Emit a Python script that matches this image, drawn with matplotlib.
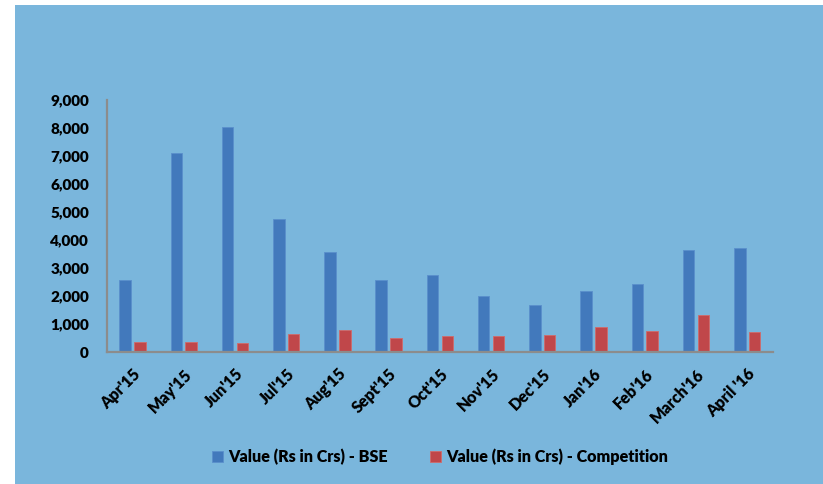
import matplotlib
matplotlib.use("Agg")
from matplotlib import pyplot as plt
from matplotlib.patches import Rectangle
from matplotlib.ticker import FuncFormatter
import numpy as np

months = ["Apr'15", "May'15", "Jun'15", "Jul'15", "Aug'15", "Sept'15", "Oct'15",
          "Nov'15", "Dec'15", "Jan'16", "Feb'16", "March'16", "April '16"]
bse = [2570, 7100, 8050, 4740, 3560, 2570, 2750, 1990, 1680, 2170, 2440, 3640, 3710]
competition = [370, 370, 335, 630, 785, 510, 570, 570, 605, 890, 760, 1310, 705]

bgColor = "#7AB6DC"
blueColor = "#4279BC"
redColor = "#C0474A"

plt.rcParams["font.family"] = ["Lato", "DejaVu Sans"]
plt.rcParams["font.weight"] = "heavy"

fig = plt.figure(figsize=(8.23, 4.84), dpi=100)
fig.patch.set_facecolor("white")
fig.patches.append(Rectangle((15 / 823, 0), 1, 1 - 5 / 484, transform=fig.transFigure,
                             facecolor=bgColor, edgecolor="none", zorder=-10))

ax = fig.add_axes([107 / 823, 1 - 352 / 484, 666 / 823, 252 / 484])
ax.set_facecolor("none")

x = np.arange(len(months))
w = 0.225
ax.bar(x - 0.147, bse, w, color=blueColor, edgecolor="#5A8FCC", linewidth=0.6,
       label="Value (Rs in Crs) - BSE")
ax.bar(x + 0.142, competition, w, color=redColor, edgecolor="#D06A6A", linewidth=0.6,
       label="Value (Rs in Crs) - Competition")

ax.set_xlim(-0.5, len(months) - 0.5)
ax.set_ylim(0, 9000)
ax.set_yticks(np.arange(0, 9001, 1000))
ax.yaxis.set_major_formatter(FuncFormatter(lambda v, p: f"{int(v):,}"))
ax.set_xticks(x)
ax.set_xticklabels(months, rotation=45, ha="right", rotation_mode="anchor")
ax.tick_params(axis="both", length=0, colors="black")
ax.tick_params(axis="y", pad=13, labelsize=11)
ax.tick_params(axis="x", pad=10, labelsize=11.5)

for s in ["top", "right"]:
    ax.spines[s].set_visible(False)
for s in ["left", "bottom"]:
    ax.spines[s].set_color("#8C8C8C")
    ax.spines[s].set_linewidth(1.6)

ax.legend(loc="center", bbox_to_anchor=(440 / 823, 1 - 457 / 484), bbox_transform=fig.transFigure,
          ncol=2, frameon=False, fontsize=11.6, handlelength=0.7, handleheight=0.7,
          handletextpad=0.3, columnspacing=2.6)

plt.savefig("out.png", dpi=100)
